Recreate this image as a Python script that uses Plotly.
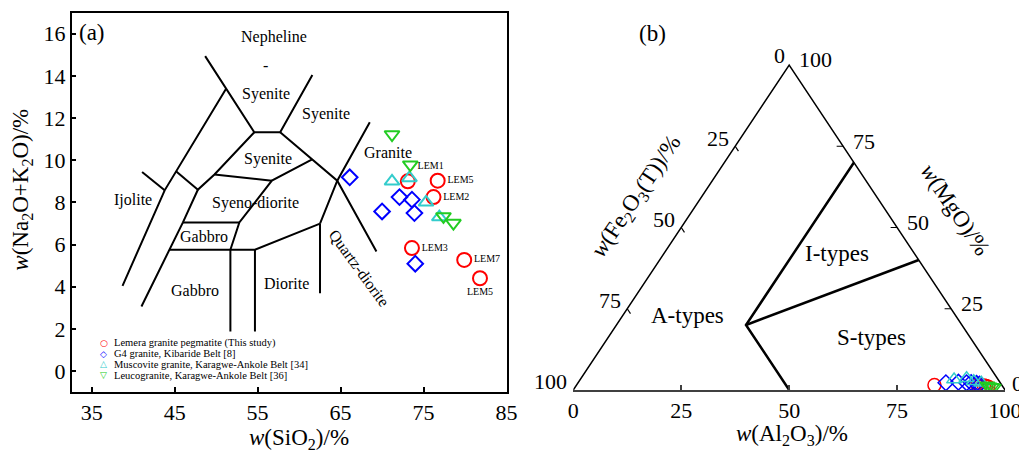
import plotly.graph_objects as go

FONT = "Liberation Serif, Times New Roman, serif"

# ---------------- Panel (a): TAS data ----------------
lem_sio2 = [73.1, 76.7, 76.2, 73.6, 79.9, 81.8]
lem_alk = [9.0, 9.03, 8.25, 5.83, 5.27, 4.4]
lem_names = ["LEM1", "LEM5", "LEM2", "LEM3", "LEM7", "LEM5"]

g4_sio2 = [66.1, 70.0, 72.1, 73.6, 73.9, 74.0]
g4_alk = [9.19, 7.57, 8.25, 8.13, 7.49, 5.09]

musc_sio2 = [71.2, 73.3, 75.3, 76.9]
musc_alk = [9.0, 9.16, 8.0, 7.3]

leuco_sio2 = [71.2, 73.4, 77.4, 78.6]
leuco_alk = [11.22, 9.79, 7.33, 7.02]

# TAS classification boundaries (SiO2, Na2O+K2O), polylines
tas_lines = [
    [(38.72, 4.04), (43.8, 8.57), (51.2, 13.39)],
    [(41.08, 9.44), (43.8, 8.57)],
    [(48.68, 14.94), (54.6, 11.33), (57.72, 11.33), (61.6, 14.04)],
    [(57.72, 11.33), (64.6, 9.03), (69.32, 5.67)],
    [(41.0, 3.06), (44.4, 5.75), (46.0, 7.05), (47.8, 8.6), (49.8, 9.32), (54.6, 11.33)],
    [(45.2, 9.47), (47.88, 8.57)],
    [(46.0, 7.05), (52.8, 7.05)],
    [(51.72, 5.75), (52.8, 7.05), (56.72, 9.03), (61.52, 10.03)],
    [(49.8, 9.32), (56.72, 9.03)],
    [(44.4, 5.75), (54.68, 5.75), (62.52, 6.99)],
    [(51.72, 5.75), (51.72, 1.87)],
    [(54.68, 5.75), (54.68, 1.87)],
    [(62.52, 6.99), (62.52, 3.69)],
    [(62.52, 6.99), (64.6, 9.03), (68.52, 11.8)],
]
tas_labels = ["Nepheline", "-", "Syenite", "Syenite", "Syenite", "Syeno-diorite",
              "Ijolite", "Gabbro", "Gabbro", "Diorite", "Granite", "Quartz-diorite"]
tas_label_x = [57.0, 55.9, 56.0, 63.2, 56.2, 54.7, 40.0, 48.5, 47.4, 58.5, 70.7, 67.3]
tas_label_y = [15.86, 14.5, 13.15, 12.2, 10.06, 7.97, 8.13, 6.38, 3.8, 4.17, 10.38, 4.88]
tas_label_angle = [0, 0, 0, 0, 0, 0, 0, 0, 0, 0, 0, 54]

# ---------------- Panel (b): ternary data (Al2O3, Fe2O3(T), MgO) ----------------
lem_al = [82.9, 92.8, 93.6, 94.4, 95.0, 95.6]
lem_fe = [15.6, 5.6, 5.0, 4.2, 3.8, 3.4]
lem_mg = [1.5, 1.6, 1.4, 1.4, 1.2, 1.0]

g4_al = [85.2, 88.0, 90.0, 91.0, 92.4, 93.2]
g4_fe = [12.6, 9.6, 7.8, 6.7, 5.6, 5.0]
g4_mg = [2.2, 2.4, 2.2, 2.3, 2.0, 1.8]

musc_al = [86.6, 89.3, 91.4, 93.4]
musc_fe = [10.2, 7.1, 5.9, 4.4]
musc_mg = [3.2, 3.6, 2.7, 2.2]

leuco_al = [95.2, 95.8, 96.5, 97.0]
leuco_fe = [3.4, 3.1, 2.6, 2.3]
leuco_mg = [1.4, 1.1, 0.9, 0.7]

# ternary boundaries as (Al, Fe, Mg)
tern_lines = [
    [(30, 0, 70), (30, 50, 20), (50, 50, 0)],
    [(30, 50, 20), (60, 0, 40)],
]
tern_outline = [(0, 100, 0), (0, 0, 100), (100, 0, 0)]
tern_ticks = [25, 50, 75]
tern_ticklabels = [0, 25, 50, 75, 100]

series_names = ["Lemera granite pegmatite (This study)", "G4 granite, Kibaride Belt [8]",
                "Muscovite granite, Karagwe-Ankole Belt [34]", "Leucogranite, Karagwe-Ankole Belt [36]"]
colors = ["#ff0000", "#0000ff", "#33cccc", "#22cc22"]
symbols = ["circle-open", "diamond-open", "triangle-up-open", "triangle-down-open"]
legend_glyphs = ["\u25cb", "\u25c7", "\u25b3", "\u25bd"]


def tern(al, fe, mg):
    xs, ys = [], []
    for a, f, m in zip(al, fe, mg):
        s = a + f + m
        xs.append(100.0 * (a + m / 2.0) / s)
        ys.append(100.0 * m / s)
    return xs, ys


def poly_xy(lines):
    xs, ys = [], []
    for ln in lines:
        for p in ln:
            xs.append(p[0]); ys.append(p[1])
        xs.append(None); ys.append(None)
    return xs, ys


fig = go.Figure()

# ---- panel (a)
bx, by = poly_xy(tas_lines)
fig.add_trace(go.Scatter(x=bx, y=by, mode="lines", line=dict(color="black", width=2),
                         hoverinfo="skip", showlegend=False, xaxis="x", yaxis="y"))

lem_textpos = ["top right", "middle right", "middle right", "middle right", "middle right", "bottom center"]
a_sets = [(lem_sio2, lem_alk, 14), (g4_sio2, g4_alk, 12), (musc_sio2, musc_alk, 13), (leuco_sio2, leuco_alk, 13)]
for i, (xs, ys, sz) in enumerate(a_sets):
    fig.add_trace(go.Scatter(
        x=xs, y=ys, mode="markers+text" if i == 0 else "markers",
        text=lem_names if i == 0 else None,
        textposition=lem_textpos if i == 0 else None,
        textfont=dict(family=FONT, size=10, color="black"),
        marker=dict(symbol=symbols[i], size=sz, color=colors[i], line=dict(width=2, color=colors[i])),
        name=series_names[i], showlegend=False, xaxis="x", yaxis="y"))

# ---- panel (b)
ox, oy = tern(*zip(*tern_outline))
fig.add_trace(go.Scatter(x=ox, y=oy, mode="lines", line=dict(color="black", width=1.5),
                         hoverinfo="skip", showlegend=False, xaxis="x2", yaxis="y2"))
tx, ty = [], []
for ln in tern_lines:
    a, f, m = zip(*ln)
    px, py = tern(a, f, m)
    tx += px + [None]; ty += py + [None]
fig.add_trace(go.Scatter(x=tx, y=ty, mode="lines", line=dict(color="black", width=2.5),
                         hoverinfo="skip", showlegend=False, xaxis="x2", yaxis="y2"))
kx, ky = [], []
for v in tern_ticks:
    px, py = tern([0, 1.5], [v, v], [100 - v, 98.5 - v])
    kx += px + [None]; ky += py + [None]
    px, py = tern([100 - v, 98.5 - v], [0, 1.5], [v, v])
    kx += px + [None]; ky += py + [None]
fig.add_trace(go.Scatter(x=kx, y=ky, mode="lines", line=dict(color="black", width=1.2),
                         hoverinfo="skip", showlegend=False, xaxis="x2", yaxis="y2"))

b_sets = [(lem_al, lem_fe, lem_mg, 13), (g4_al, g4_fe, g4_mg, 12), (musc_al, musc_fe, musc_mg, 13),
          (leuco_al, leuco_fe, leuco_mg, 13)]
for i, (al, fe, mg, sz) in enumerate(b_sets):
    px, py = tern(al, fe, mg)
    fig.add_trace(go.Scatter(
        x=px, y=py, mode="markers",
        marker=dict(symbol=symbols[i], size=sz, color=colors[i], line=dict(width=1.5, color=colors[i])),
        name=series_names[i], showlegend=False, xaxis="x2", yaxis="y2"))

ann = []


def A(**kw):
    d = dict(showarrow=False, xanchor="center", yanchor="middle")
    d.update(kw)
    f = dict(family=FONT, color="black")
    f.update(kw.get("font", {}))
    d["font"] = f
    ann.append(d)


# TAS region labels
for t, x, y, ang in zip(tas_labels, tas_label_x, tas_label_y, tas_label_angle):
    A(x=x, y=y, xref="x", yref="y", text=t, textangle=ang, font=dict(size=16))

# legend rows (panel a)
for i, nm in enumerate(series_names):
    yy = 1 - (342.7 + i * 10.8) / 451
    A(x=103.5 / 1019, y=yy, xref="paper", yref="paper", text=legend_glyphs[i],
      font=dict(family="DejaVu Sans", size=9, color=colors[i]))
    A(x=111.5 / 1019, y=yy, xref="paper", yref="paper", text=nm, xanchor="left", font=dict(size=10.5))

# panel labels / axis titles
A(x=92 / 1019, y=1 - 32.5 / 451, xref="paper", yref="paper", text="(a)", font=dict(size=23))
A(x=652.7 / 1019, y=1 - 33.3 / 451, xref="paper", yref="paper", text="(b)", font=dict(size=23))
A(x=299 / 1019, y=1 - 439 / 451, xref="paper", yref="paper", text="<i>w</i>(SiO<sub>2</sub>)/%", font=dict(size=23))
A(x=21.7 / 1019, y=1 - 190 / 451, xref="paper", yref="paper",
  text="<i>w</i>(Na<sub>2</sub>O+K<sub>2</sub>O)/%", textangle=-90, font=dict(size=23))
A(x=791.7 / 1019, y=1 - 435 / 451, xref="paper", yref="paper",
  text="<i>w</i>(Al<sub>2</sub>O<sub>3</sub>)/%", font=dict(size=23))
A(x=636.7 / 1019, y=1 - 196.7 / 451, xref="paper", yref="paper",
  text="<i>w</i>(Fe<sub>2</sub>O<sub>3</sub>(T))/%", textangle=-56, font=dict(size=23))
A(x=955 / 1019, y=1 - 209.5 / 451, xref="paper", yref="paper",
  text="<i>w</i>(MgO)/%", textangle=56, font=dict(size=23))

# ternary region labels
for txt, (al, fe, mg) in zip(["A-types", "I-types", "S-types"], [(15, 62, 23), (40, 18, 42), (61, 23, 16)]):
    px, py = tern([al], [fe], [mg])
    A(x=px[0], y=py[0], xref="x2", yref="y2", text=txt, font=dict(size=23))

# ternary edge tick labels (left: Fe2O3, right: MgO)
for v in tern_ticklabels:
    px, py = tern([0], [v], [100 - v])
    A(x=px[0], y=py[0], xref="x2", yref="y2", text=str(v),
      xshift=-10 if v == 0 else (-23 if v == 100 else -17), yshift=9 if v == 0 else 8, font=dict(size=22))
for v in tern_ticklabels:
    px, py = tern([100 - v], [0], [v])
    A(x=px[0], y=py[0], xref="x2", yref="y2", text=str(v),
      xshift=12 if v == 0 else (26 if v == 100 else 21), yshift=6 if v == 0 else 5, font=dict(size=22))

axis_common = dict(showgrid=False, zeroline=False, automargin=False, ticklabeloverflow="allow",
                   tickfont=dict(family=FONT, size=22, color="black"))

fig.update_layout(
    width=1019, height=451, margin=dict(l=0, r=0, t=0, b=0, autoexpand=False),
    paper_bgcolor="white", plot_bgcolor="white",
    font=dict(family=FONT, color="black"),
    annotations=ann,
    xaxis=dict(domain=[0.0704, 0.4975], range=[32.6, 85.05], tick0=35, dtick=10,
               showline=True, mirror=True, linecolor="black", linewidth=1.5,
               ticks="inside", ticklen=5, tickwidth=1.5, tickcolor="black", **axis_common),
    yaxis=dict(domain=[0.1308, 0.9718], range=[-1, 17], tick0=0, dtick=2,
               showline=True, mirror=True, linecolor="black", linewidth=1.5,
               ticks="inside", ticklen=5, tickwidth=1.5, tickcolor="black", **axis_common),
    xaxis2=dict(domain=[0.5626, 0.9863], range=[0, 100], anchor="y2", tickvals=[0, 25, 50, 75, 100],
                showline=True, linecolor="#404040", linewidth=2,
                ticks="inside", ticklen=5, tickwidth=1.5, tickcolor="#404040", **axis_common),
    yaxis2=dict(domain=[0.1353, 0.8703], range=[0, 102], anchor="x2", visible=False,
                showgrid=False, zeroline=False),
)

fig.write_html("out.html")
